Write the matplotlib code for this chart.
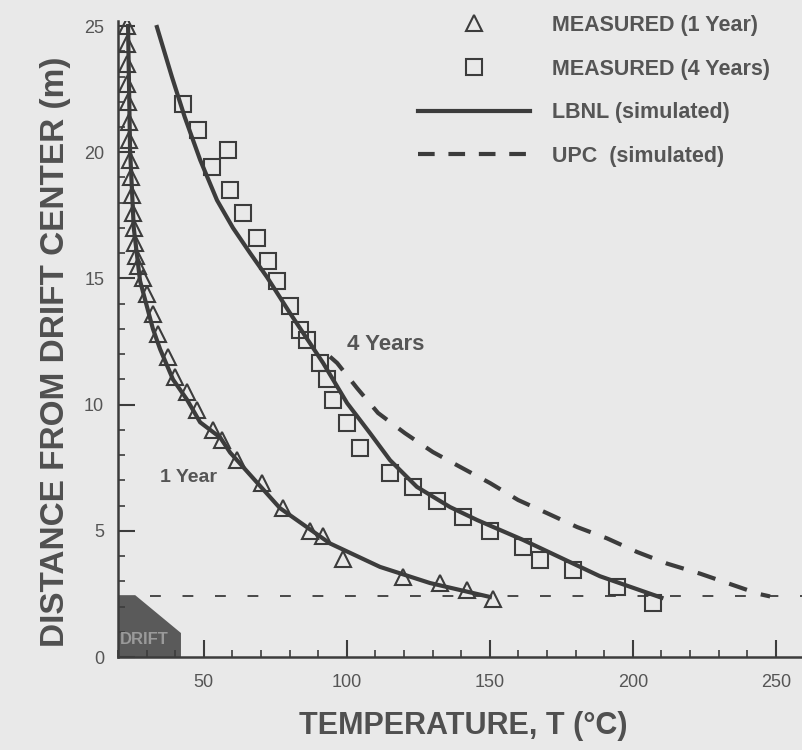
import numpy as np
import matplotlib
matplotlib.use('Agg')
import matplotlib.pyplot as plt
from matplotlib.lines import Line2D
from matplotlib.ticker import MultipleLocator

plt.rcParams['font.family'] = ['Liberation Sans', 'DejaVu Sans']

# LBNL simulated, 1 year
lbnl1_T = [23.5, 24.2, 25.5, 27.7, 32.2, 34.7, 39.2, 44.1, 48.7, 55.7, 59.2, 76.6, 94.1, 111.6, 129.1, 150.0]
lbnl1_d = [25.0, 20.1, 17.0, 14.9, 13.0, 12.2, 11.0, 10.2, 9.3, 8.7, 8.1, 5.9, 4.5, 3.57, 2.93, 2.38]

# LBNL simulated, 4 years
lbnl4_T = [33.6, 38.8, 43.3, 48.7, 54.6, 60.2, 66.2, 72.1, 80.1, 91.7, 100.1, 108.1, 115.1, 124.5,
           136.1, 145.5, 161.6, 188.5, 210.0]
lbnl4_d = [24.96, 23.0, 21.4, 19.7, 18.1, 17.0, 16.0, 15.05, 13.63, 11.65, 10.06, 8.87, 7.8, 6.74,
           5.94, 5.43, 4.64, 3.2, 2.35]

# UPC simulated, 4 years (part that departs from LBNL)
upc4_T = [94.1, 96.6, 103.6, 110.9, 120.3, 130.1, 140.3, 150.1, 159.9, 170.0, 180.5, 191.0, 201.5,
          212.0, 223.6, 233.8, 244.0, 248.0]
upc4_d = [11.9, 11.65, 10.65, 9.67, 8.87, 8.12, 7.49, 6.89, 6.22, 5.7, 5.15, 4.7, 4.16,
          3.7, 3.3, 2.9, 2.5, 2.4]

# measured, 1 year
meas1_T = [23.0, 23.0, 23.2, 23.3, 23.6, 23.8, 24.0, 24.3, 24.6, 24.9, 25.2, 25.5, 25.9, 26.4, 27.0,
           28.7, 30.0, 32.2, 34.0, 37.5, 40.0, 44.0, 47.6, 53.2, 56.4, 61.6, 70.3, 77.7, 87.1, 91.7,
           98.7, 119.6, 132.6, 142.0, 151.0]
meas1_d = [25.0, 24.3, 23.5, 22.7, 22.0, 21.2, 20.5, 19.7, 19.0, 18.3, 17.6, 17.0, 16.4, 15.9, 15.5,
           15.0, 14.4, 13.6, 12.8, 11.9, 11.1, 10.5, 9.8, 9.0, 8.6, 7.8, 6.9, 5.9, 5.0, 4.8,
           3.9, 3.17, 2.93, 2.65, 2.3]

# measured, 4 years
meas4_T = [42.7, 48.0, 58.5, 52.9, 59.0, 63.7, 68.6, 72.4, 75.6, 80.1, 83.6, 86.1, 90.6, 93.1, 95.2,
           100.0, 104.6, 115.0, 123.0, 131.5, 140.6, 150.0, 161.6, 167.6, 179.0, 194.5, 207.0]
meas4_d = [21.9, 20.9, 20.1, 19.4, 18.5, 17.6, 16.6, 15.7, 14.9, 13.9, 12.96, 12.56, 11.65, 11.0, 10.2,
           9.27, 8.3, 7.3, 6.74, 6.2, 5.55, 5.0, 4.36, 3.84, 3.45, 2.77, 2.14]

# drift outline and wall line
drift_T = [20, 26, 42, 42]
drift_d = [2.45, 2.45, 0.95, 0]
wall_T = [31, 260]
wall_d = [2.4, 2.4]

ink = '#3c3c3c'
bg = '#e9e9e9'

fig = plt.figure(figsize=(8.03, 7.5), dpi=100, facecolor=bg)
ax = fig.add_axes([0.147, 0.124, 0.853, 0.848])
ax.set_facecolor(bg)

ax.fill(drift_T + [20], drift_d + [0], color='#5a5a5a', lw=0, zorder=1)
ax.text(20.8, 0.7, 'DRIFT', fontsize=12, fontweight='bold', color='#9a9a9a', va='center', zorder=2)

ax.plot(wall_T, wall_d, color=ink, lw=1.3, dashes=(6, 12), zorder=2)

ax.plot(lbnl1_T, lbnl1_d, color=ink, lw=3, zorder=3)
ax.plot(lbnl4_T, lbnl4_d, color=ink, lw=3, zorder=3)
ax.plot(upc4_T, upc4_d, color=ink, lw=3, dashes=(4.5, 3.5), zorder=3)

ax.plot(meas1_T, meas1_d, ls='none', marker='^', ms=12, mfc='none', mec=ink, mew=1.5, zorder=4)
ax.plot(meas4_T, meas4_d, ls='none', marker='s', ms=12, mfc='none', mec=ink, mew=1.5, zorder=4)

ax.text(100, 12.4, '4 Years', fontsize=16, fontweight='bold', color='#555555', va='center')
ax.text(34.5, 7.1, '1 Year', fontsize=14, fontweight='bold', color='#555555', va='center')

ax.set_xlim(20, 259.5)
ax.set_ylim(0, 25.2)
ax.xaxis.set_major_locator(MultipleLocator(50))
ax.xaxis.set_minor_locator(MultipleLocator(10))
ax.yaxis.set_major_locator(MultipleLocator(5))
ax.yaxis.set_minor_locator(MultipleLocator(1))
ax.set_xticks([50, 100, 150, 200, 250])

for s in ['top', 'right']:
    ax.spines[s].set_visible(False)
for s in ['left', 'bottom']:
    ax.spines[s].set_color(ink)
    ax.spines[s].set_linewidth(1.8)

ax.tick_params(axis='both', which='major', direction='in', length=12, width=1.5, color=ink,
               labelsize=13, labelcolor='#555555')
ax.tick_params(axis='both', which='minor', direction='in', length=5, width=1.2, color=ink)
ax.tick_params(axis='x', which='major', pad=12)
ax.tick_params(axis='y', which='major', pad=10)

ax.set_xlabel('TEMPERATURE, T (\u00b0C)', fontsize=22, fontweight='bold', color='#505050')
ax.set_ylabel('DISTANCE FROM DRIFT CENTER (m)', fontsize=24, fontweight='bold', color='#505050')
ax.xaxis.set_label_coords(0.504, -0.085)
ax.yaxis.set_label_coords(-0.068, 0.48)

handles = [
    Line2D([], [], ls='none', marker='^', ms=12, mfc='none', mec=ink, mew=1.5),
    Line2D([], [], ls='none', marker='s', ms=12, mfc='none', mec=ink, mew=1.5),
    Line2D([], [], color=ink, lw=3),
    Line2D([], [], color=ink, lw=3, dashes=(4, 3.3)),
]
labels = ['MEASURED (1 Year)', 'MEASURED (4 Years)', 'LBNL (simulated)', 'UPC  (simulated)']
leg = ax.legend(handles, labels, loc='upper left', bbox_to_anchor=(0.41, 1.04), frameon=False,
                handlelength=5.2, handletextpad=1.0, labelspacing=1.05,
                prop={'size': 15.5, 'weight': 'bold'})
for t in leg.get_texts():
    t.set_color('#555555')

fig.savefig('out.png', dpi=100, facecolor=bg)
